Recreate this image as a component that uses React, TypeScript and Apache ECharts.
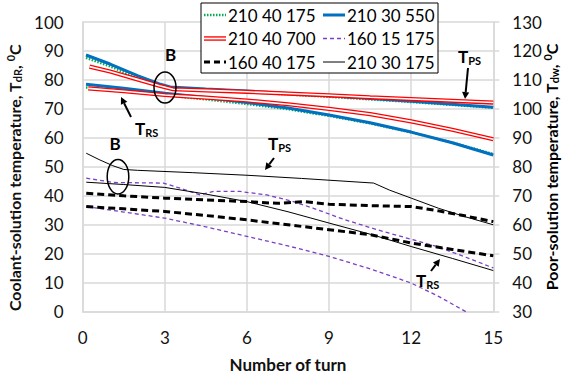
import React, { useEffect, useRef } from "react";
import * as echarts from "echarts";

const FONT = "Lato";

// x axis ticks (Number of turn)
const xMin = 0, xMax = 15, xStep = 3;
// left axis: coolant-solution temperature, right axis: poor-solution temperature
const leftMin = 0, leftMax = 100;
const rightMin = 30, rightMax = 130;

// legend names
const legendNames = ["210 40 175", "210 30 550", "210 40 700", "160 15 175", "160 40 175", "210 30 175"];

// 210 40 175 (green dotted)
const greenPS = [[0.12, 87.6], [1, 84.7], [2, 80.7], [2.8, 77.9], [3.2, 77.0], [4.5, 76.4], [6, 75.8], [7.5, 75.0], [9, 74.2], [10.5, 73.3], [12, 72.4], [13.5, 71.4], [15, 70.4]];
const greenRS = [[0.12, 77.4], [1.5, 76.2], [3, 74.7], [4.5, 73.3], [6, 71.7], [7.5, 69.9], [9, 67.6], [10.5, 65.0], [12, 61.9], [13.5, 58.4], [15, 54.4]];
// 210 30 550 (blue)
const bluePS = [[0.12, 88.6], [1, 85.5], [2, 81.5], [2.8, 78.6], [3.2, 77.6], [4.5, 76.9], [6, 76.2], [7.5, 75.3], [9, 74.5], [10.5, 73.6], [12, 72.6], [13.5, 71.6], [15, 70.6]];
const blueRS = [[0.12, 78.5], [1.5, 77.1], [3, 75.4], [4.5, 73.9], [6, 72.2], [7.5, 70.3], [9, 67.9], [10.5, 65.2], [12, 62.0], [13.5, 58.3], [15, 54.1]];
// 210 40 700 (red double)
const redPS = [[0.25, 84.6], [1, 82.9], [2, 80.2], [2.8, 78.0], [3.3, 76.8], [4.5, 76.4], [6, 75.9], [7.5, 75.3], [9, 74.7], [10.5, 74.0], [12, 73.4], [13.5, 72.8], [15, 72.2]];
const redRS = [[0.2, 77.1], [1.5, 76.1], [3, 74.8], [4.5, 73.9], [6, 72.9], [7.5, 71.6], [9, 70.0], [10.5, 68.2], [12, 65.7], [13.5, 62.8], [15, 59.5]];
// 160 15 175 (purple dashed)
const purplePS = [[0.13, 46.1], [1.13, 44.6], [2.95, 44.4], [3.6, 42.5], [4.29, 40.3], [4.78, 41.5], [5.75, 41.5], [6.73, 40.3], [7.7, 38.0], [8.43, 35.7], [9.5, 32.0], [10.75, 28.3], [12, 25.0], [12.94, 22.5], [14, 18.8], [15, 15.1]];
const purpleRS = [[0.13, 36.3], [1.5, 34.4], [3, 32.3], [4.5, 29.3], [6, 26.0], [7.5, 22.7], [9, 19.1], [10.5, 14.8], [12, 9.9], [13, 5.3], [14, 0]];
// 160 40 175 (black dashed)
const dashPS = [[0.13, 40.9], [1.5, 40.0], [3, 39.2], [4.5, 38.6], [6, 38.0], [7.1, 37.4], [8.1, 38.0], [9, 37.1], [10.5, 36.6], [12, 36.3], [13, 34.8], [14, 33.0], [15, 31.1]];
const dashRS = [[0.13, 36.3], [1.5, 35.5], [3, 34.6], [4.5, 33.2], [6, 31.7], [7.5, 30.0], [9, 28.3], [10.5, 26.6], [12, 23.7], [13.5, 21.5], [15, 19.3]];
// 210 30 175 (black thin)
const thinPS = [[0.13, 54.7], [0.6, 52.5], [1.1, 50.4], [1.5, 49.1], [2, 48.8], [4, 48.0], [6, 47.1], [8, 46.0], [10.63, 44.4], [11.2, 42.0], [12, 39.2], [13, 35.7], [14, 32.7], [15, 30.0]];
const thinRS = [[0.13, 44.7], [1.5, 43.9], [3, 42.9], [4.5, 40.6], [6, 38.0], [7.5, 34.5], [9, 30.6], [10.6, 26.5], [12, 22.5], [13.5, 18.4], [15, 14.2]];

const GREEN = "#00b050";
const BLUE = "#0070c0";
const RED = "#ff0000";
const PURPLE = "#7b3fc4";
const BLACK = "#000000";
const GRID = "#d9d9d9";

function line(name: string, data: number[][], color: string, width: number, type: any, z = 2) {
  return {
    type: "line",
    name,
    data,
    symbol: "none",
    showSymbol: false,
    silent: true,
    z,
    lineStyle: { color, width, type, cap: "butt" },
    itemStyle: { color },
  };
}

function arrow(x1: number, y1: number, x2: number, y2: number) {
  const dx = x2 - x1, dy = y2 - y1;
  const len = Math.sqrt(dx * dx + dy * dy);
  const ux = dx / len, uy = dy / len;
  const hl = 7, hw = 3.6;
  const bx = x2 - ux * hl, by = y2 - uy * hl;
  return [
    { type: "line", shape: { x1, y1, x2: bx, y2: by }, style: { stroke: BLACK, lineWidth: 2 }, z: 20 },
    {
      type: "polygon",
      shape: { points: [[x2, y2], [bx - uy * hw, by + ux * hw], [bx + uy * hw, by - ux * hw]] },
      style: { fill: BLACK },
      z: 20,
    },
  ];
}

const subRich = {
  t: { fontFamily: FONT, fontSize: 17, fontWeight: "bold", color: BLACK, lineHeight: 20 },
  s: { fontFamily: FONT, fontSize: 11, fontWeight: "bold", color: BLACK, verticalAlign: "bottom", lineHeight: 12 },
};

const richName = {
  n: { fontFamily: FONT, fontSize: 16, fontWeight: "bold", color: "#111", lineHeight: 18 },
  sub: { fontFamily: FONT, fontSize: 11, fontWeight: "bold", color: "#111", verticalAlign: "bottom", lineHeight: 12 },
  sup: { fontFamily: FONT, fontSize: 11, fontWeight: "bold", color: "#111", verticalAlign: "top", lineHeight: 12 },
};

function tLabel(x: number, y: number, sub: string) {
  return {
    type: "text",
    x,
    y,
    z: 20,
    style: { text: `{t|T}{s|${sub}}`, rich: subRich, align: "left", verticalAlign: "middle" },
  };
}

function bLabel(x: number, y: number) {
  return {
    type: "text",
    x,
    y,
    z: 20,
    style: { text: "B", fontFamily: FONT, fontSize: 17, fontWeight: "bold", fill: BLACK, align: "center", verticalAlign: "middle" },
  };
}

function legendGraphic() {
  const rows = [15, 38.5, 62];
  const cols = [204, 323];
  const iconLen = 22;
  const els: any[] = [
    { type: "rect", shape: { x: 201, y: 3, width: 237, height: 70 }, style: { fill: "#fff", stroke: BLACK, lineWidth: 1 }, z: 30 },
  ];
  const styles: any[] = [
    [{ stroke: GREEN, lineWidth: 2.5, lineDash: [1.5, 1.5] }],
    [{ stroke: BLUE, lineWidth: 3 }],
    [{ stroke: RED, lineWidth: 4.5 }, { stroke: "#fff", lineWidth: 1.8 }],
    [{ stroke: PURPLE, lineWidth: 1.3, lineDash: [4, 3] }],
    [{ stroke: BLACK, lineWidth: 3, lineDash: [6, 4] }],
    [{ stroke: BLACK, lineWidth: 1 }],
  ];
  legendNames.forEach((name, i) => {
    const r = Math.floor(i / 2), c = i % 2;
    const x = cols[c], y = rows[r];
    styles[i].forEach((st: any) => {
      els.push({ type: "line", shape: { x1: x, y1: y, x2: x + iconLen, y2: y }, style: st, z: 31 });
    });
    els.push({
      type: "text",
      x: x + iconLen + 2,
      y,
      z: 31,
      style: { text: name, fontFamily: FONT, fontSize: 17, fill: BLACK, align: "left", verticalAlign: "middle" },
    });
  });
  return els;
}

export default function App() {
  const ref = useRef<HTMLDivElement>(null);
  useEffect(() => {
    if (!ref.current) return;
    const chart = echarts.init(ref.current, null, { renderer: "svg" });
    const axisLabel = { fontFamily: FONT, fontSize: 17, color: "#111" };
    const nameStyle = { fontFamily: FONT, fontSize: 16, fontWeight: "bold", color: "#111" };
    chart.setOption({
      animation: false,
      backgroundColor: "#fff",
      grid: { left: 82.7, right: 71.7, top: 22, bottom: 66.3, containLabel: false, outerBoundsMode: "none" },
      xAxis: {
        type: "value",
        min: xMin,
        max: xMax,
        interval: xStep,
        name: "Number of turn",
        nameLocation: "middle",
        nameGap: 44,
        nameTextStyle: { ...nameStyle, fontSize: 17 },
        axisLine: { show: true, lineStyle: { color: GRID, width: 1.5 } },
        axisTick: { show: false },
        axisLabel: { ...axisLabel, margin: 17 },
        splitLine: { show: true, lineStyle: { color: GRID, width: 1.5 } },
      },
      yAxis: [
        {
          type: "value",
          min: leftMin,
          max: leftMax,
          interval: 10,
          position: "left",
          name: "{n|Coolant-solution temperature, T}{sub|dR}{n|, }{sup|0}{n|C}",
          nameLocation: "middle",
          nameRotate: 90,
          nameGap: 50,
          nameTextStyle: { ...nameStyle, rich: richName, padding: [0, 22, 0, 0] },
          axisLine: { show: true, lineStyle: { color: GRID, width: 1.5 } },
          axisTick: { show: false },
          axisLabel: { ...axisLabel, margin: 19 },
          splitLine: { show: true, lineStyle: { color: GRID, width: 1.5 } },
        },
        {
          type: "value",
          min: rightMin,
          max: rightMax,
          interval: 10,
          position: "right",
          axisLine: { show: true, lineStyle: { color: GRID, width: 1.5 } },
          axisTick: { show: true, length: 6, inside: false, lineStyle: { color: GRID, width: 1.5 } },
          axisLabel: { ...axisLabel, margin: 19 },
          splitLine: { show: false },
        },
      ],
      series: [
        line(legendNames[0], greenPS, GREEN, 2.5, [1.5, 1.5]),
        line(legendNames[0], greenRS, GREEN, 2.5, [1.5, 1.5]),
        line(legendNames[1], bluePS, BLUE, 3, "solid", 3),
        line(legendNames[1], blueRS, BLUE, 3, "solid", 3),
        line(legendNames[2], redPS, RED, 4.2, "solid", 4),
        line(legendNames[2], redRS, RED, 4.2, "solid", 4),
        line(legendNames[2] + " core", redPS, "#ffffff", 1.6, "solid", 5),
        line(legendNames[2] + " core", redRS, "#ffffff", 1.6, "solid", 5),
        line(legendNames[3], purplePS, PURPLE, 1.3, [4, 3], 6),
        line(legendNames[3], purpleRS, PURPLE, 1.3, [4, 3], 6),
        line(legendNames[4], dashPS, BLACK, 3, [7, 4], 7),
        line(legendNames[4], dashRS, BLACK, 3, [7, 4], 7),
        line(legendNames[5], thinPS, BLACK, 1, "solid", 8),
        line(legendNames[5], thinRS, BLACK, 1, "solid", 8),
      ],
      graphic: [
        {
          type: "text",
          x: 551,
          y: 167,
          rotation: Math.PI / 2,
          z: 20,
          style: {
            text: "{n|Poor-solution temperature, T}{sub|dw}{n|, }{sup|0}{n|C}",
            rich: richName,
            align: "center",
            verticalAlign: "middle",
          },
        },
        ...legendGraphic(),
        bLabel(170.5, 54),
        bLabel(115, 143),
        { type: "ellipse", shape: { cx: 165, cy: 87.5, rx: 11, ry: 15.5 }, style: { fill: "none", stroke: BLACK, lineWidth: 1.5 }, z: 20 },
        { type: "ellipse", shape: { cx: 118, cy: 176.7, rx: 10.8, ry: 17.3 }, style: { fill: "none", stroke: BLACK, lineWidth: 1.5 }, z: 20 },
        tLabel(458, 56, "PS"),
        tLabel(135, 128, "RS"),
        tLabel(268, 143, "PS"),
        tLabel(416, 280, "RS"),
        ...arrow(468, 68, 465, 99),
        ...arrow(131, 117, 121, 97),
        ...arrow(274, 158, 265, 170),
        ...arrow(431, 271, 440, 259),
      ],
    });
    return () => chart.dispose();
  }, []);
  return <div ref={ref} style={{ position: "absolute", left: 0, top: 0, width: 565, height: 378 }} />;
}
